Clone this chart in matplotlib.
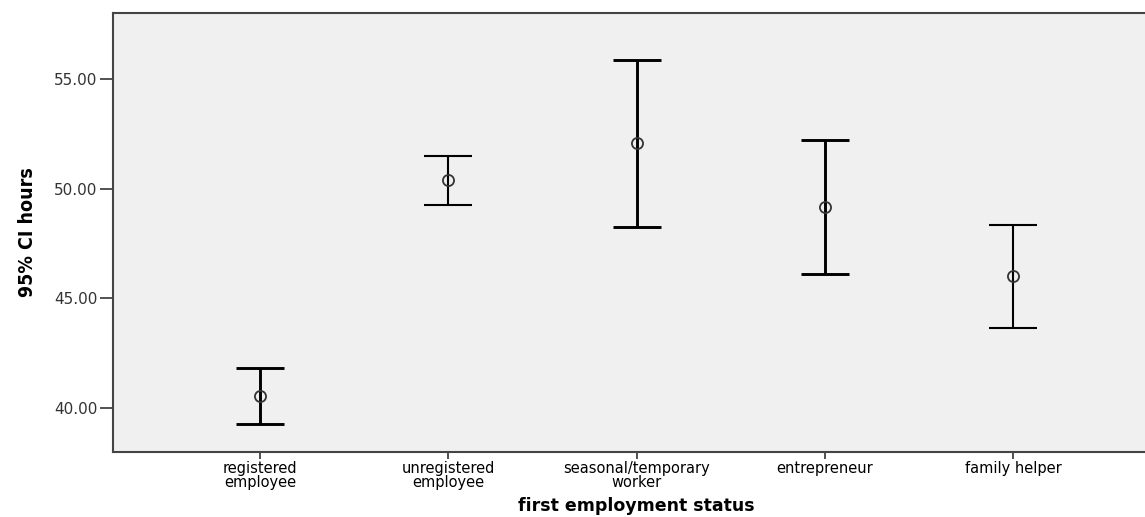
import numpy as np
import matplotlib.pyplot as plt

# data
categories = ['registered\nemployee', 'unregistered\nemployee', 'seasonal/temporary\nworker',
              'entrepreneur', 'family helper']
means = [40.55, 50.38, 52.08, 49.16, 46.00]
upper = [41.83, 51.52, 55.89, 52.22, 48.37]
lower = [39.27, 49.24, 48.26, 46.10, 43.63]
yticks = [40, 45, 50, 55]

# line weights as they appear in the picture
line_w = [2.1, 1.5, 2.1, 2.1, 1.5]

fig = plt.figure(figsize=(11.45, 5.17), dpi=100)
ax = fig.add_axes([113 / 1145, 1 - 452 / 517, 1047 / 1145, 439 / 517])
ax.set_facecolor('#f0f0f0')

x = np.arange(len(categories))
for i in range(len(categories)):
    err = [[means[i] - lower[i]], [upper[i] - means[i]]]
    ax.errorbar(x[i], means[i], yerr=err, fmt='none', ecolor='black',
                elinewidth=line_w[i], capsize=17.3, capthick=line_w[i])
ax.plot(x, means, 'o', ms=8, mfc='none', mec='#333333', mew=1.3, zorder=5)

ax.set_xlim(-0.78, 4.78)
ax.set_ylim(37.98, 58.03)
ax.set_xticks(x)
ax.set_xticklabels(categories, fontsize=10.5, linespacing=0.9)
ax.set_yticks(yticks)
ax.set_yticklabels([f'{v:.2f}' for v in yticks], fontsize=11, color='#333333')
ax.tick_params(axis='y', length=9.4, width=1.2, color='#333333', pad=2)
ax.tick_params(axis='x', length=5, width=1.2, color='#333333', pad=1.5)

for s in ax.spines.values():
    s.set_color('#444444')
    s.set_linewidth(1.5)

ax.set_xlabel('first employment status', fontsize=12.5, fontweight='bold', labelpad=5)
ax.set_ylabel('95% CI hours', fontsize=14, fontweight='bold', fontstretch='condensed',
              family='DejaVu Sans', labelpad=12)

fig.savefig('out.png', dpi=100)
